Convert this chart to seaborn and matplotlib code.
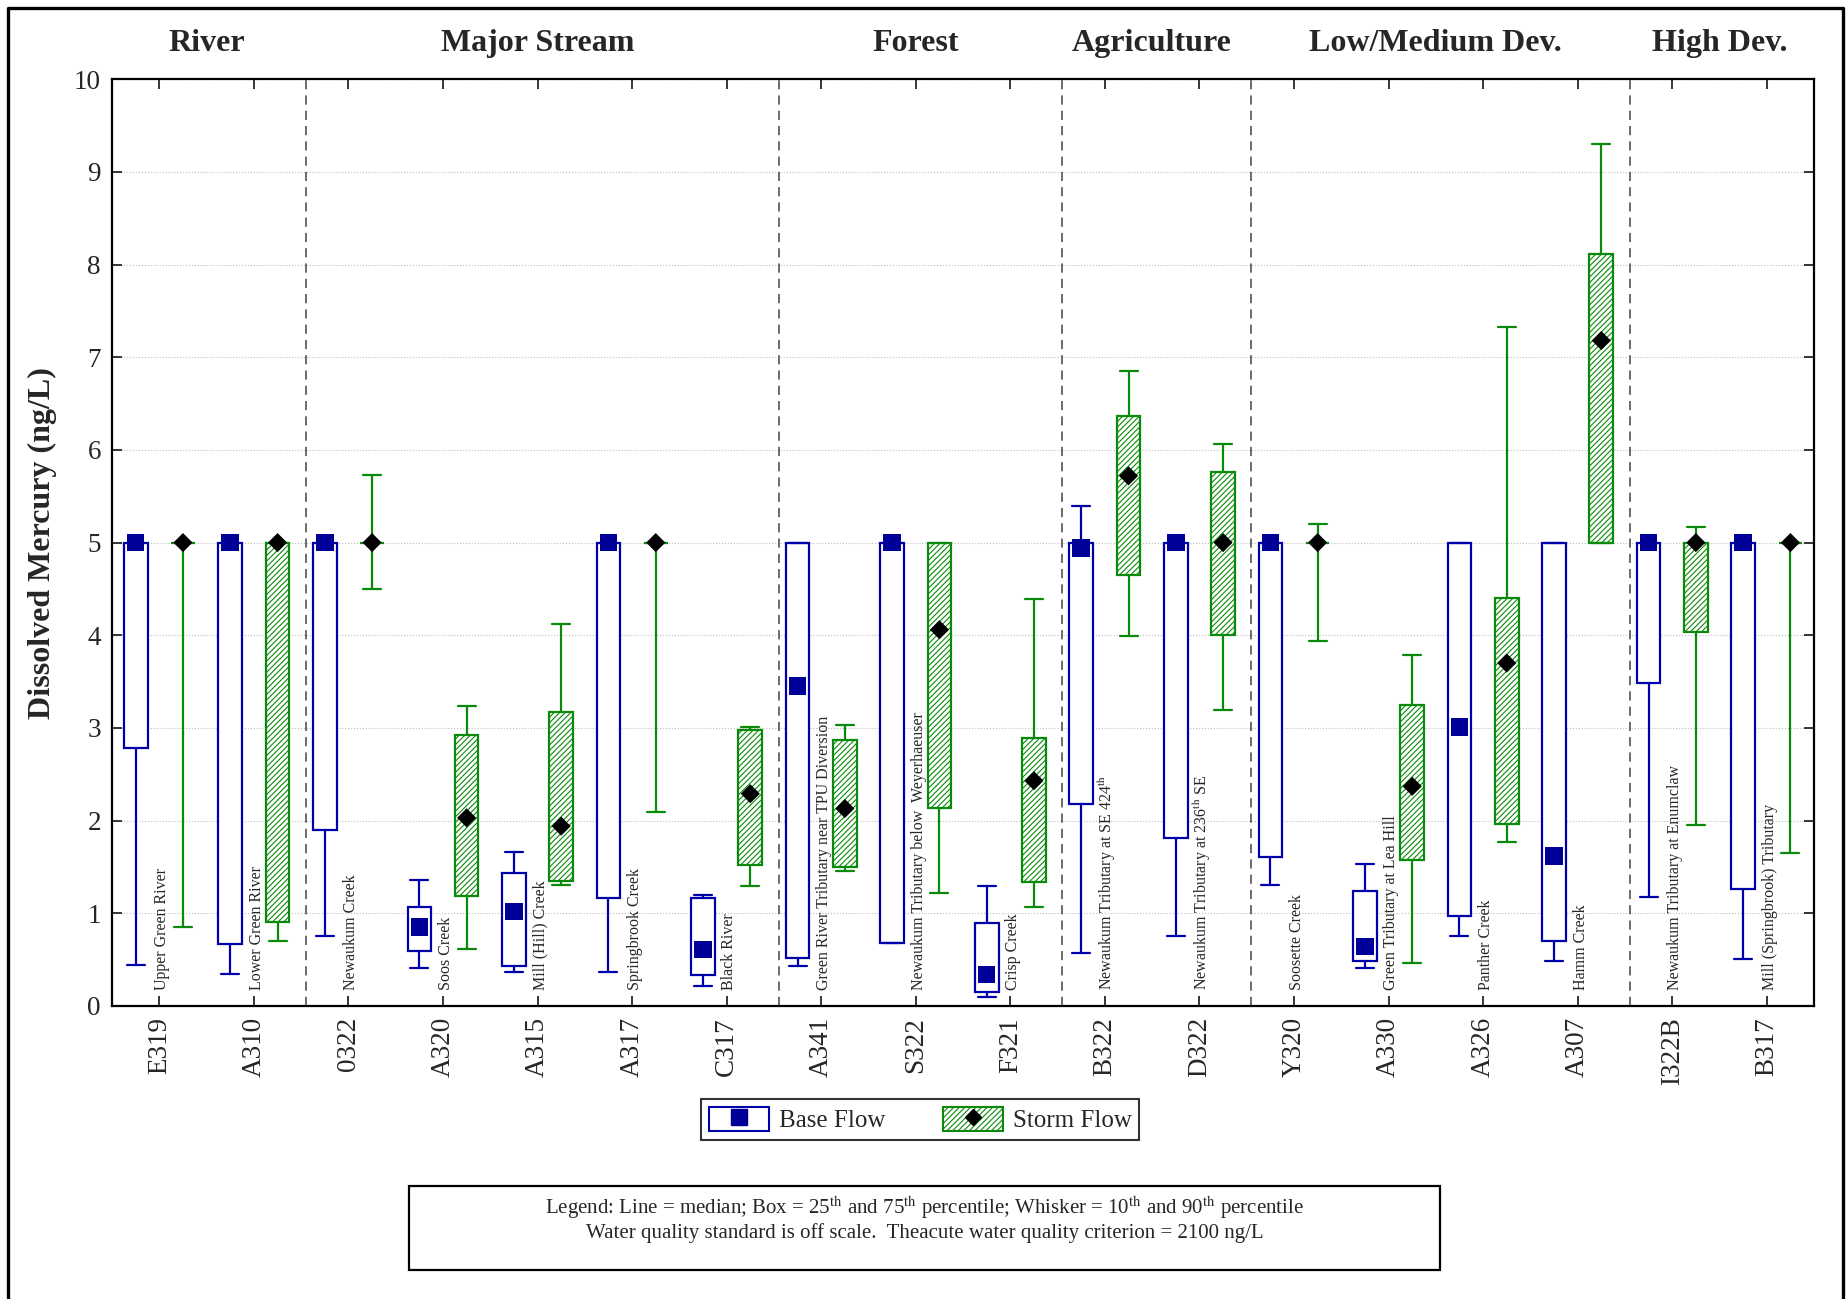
import numpy as np
import pandas as pd
import seaborn as sns
import matplotlib.pyplot as plt
from matplotlib.patches import Patch, Rectangle
from matplotlib.lines import Line2D

# Data (ng/L)
sites = ["E319", "A310", "0322", "A320", "A315", "A317", "C317", "A341", "S322",
         "F321", "B322", "D322", "Y320", "A330", "A326", "A307", "I322B", "B317"]
site_names = ["Upper Green River", "Lower Green River", "Newaukum Creek", "Soos Creek",
              "Mill (Hill) Creek", "Springbrook Creek", "Black River",
              "Green River Tributary near TPU Diversion",
              "Newaukum Tributary below  Weyerhaeuser", "Crisp Creek",
              "Newaukum Tributary at SE 424$^{\\mathrm{th}}$",
              "Newaukum Tributary at 236$^{\\mathrm{th}}$ SE", "Soosette Creek",
              "Green Tributary at Lea Hill", "Panther Creek", "Hamm Creek",
              "Newaukum Tributary at Enumclaw", "Mill (Springbrook) Tributary"]
groups = ["River", "Major Stream", "Forest", "Agriculture", "Low/Medium Dev.", "High Dev."]
group_sizes = [2, 5, 3, 2, 4, 2]

# base flow: 10th, 25th, median, 75th, 90th percentile
base_p10 = [0.44, 0.34, 0.75, 0.41, 0.37, 0.37, 0.22, 0.43, 0.68, 0.10, 0.57, 0.76, 1.30, 0.41, 0.76, 0.49, 1.18, 0.51]
base_p25 = [2.78, 0.67, 1.90, 0.59, 0.43, 1.17, 0.33, 0.52, 0.68, 0.15, 2.18, 1.81, 1.61, 0.48, 0.97, 0.70, 3.49, 1.26]
base_med = [5.00, 5.00, 5.00, 0.85, 1.02, 5.00, 0.61, 3.45, 5.00, 0.34, 4.94, 5.00, 5.00, 0.64, 3.01, 1.62, 5.00, 5.00]
base_p75 = [5.00, 5.00, 5.00, 1.07, 1.43, 5.00, 1.16, 5.00, 5.00, 0.89, 5.00, 5.00, 5.00, 1.24, 5.00, 5.00, 5.00, 5.00]
base_p90 = [5.00, 5.00, 5.00, 1.36, 1.66, 5.00, 1.20, 5.00, 5.00, 1.29, 5.39, 5.00, 5.00, 1.53, 5.00, 5.00, 5.00, 5.00]

# storm flow
storm_p10 = [0.85, 0.70, 4.50, 0.61, 1.31, 2.09, 1.29, 1.46, 1.22, 1.07, 3.99, 3.19, 3.94, 0.46, 1.77, 5.00, 1.95, 1.65]
storm_p25 = [5.00, 0.91, 5.00, 1.19, 1.35, 5.00, 1.52, 1.50, 2.14, 1.34, 4.65, 4.00, 5.00, 1.58, 1.96, 5.00, 4.04, 5.00]
storm_med = [5.00, 5.00, 5.00, 2.03, 1.94, 5.00, 2.29, 2.13, 4.06, 2.43, 5.72, 5.00, 5.00, 2.37, 3.70, 7.18, 5.00, 5.00]
storm_p75 = [5.00, 5.00, 5.00, 2.92, 3.17, 5.00, 2.98, 2.87, 5.00, 2.89, 6.37, 5.76, 5.00, 3.25, 4.40, 8.11, 5.00, 5.00]
storm_p90 = [5.00, 5.00, 5.73, 3.24, 4.12, 5.00, 3.01, 3.03, 5.00, 4.39, 6.85, 6.06, 5.20, 3.79, 7.33, 9.30, 5.17, 5.00]

blue = "#0000aa"
navy = "#000099"
green = "#0a8a0a"

sns.set_style("ticks")
plt.rcParams["font.family"] = ["Liberation Serif", "DejaVu Serif"]
plt.rcParams["mathtext.fontset"] = "stix"
plt.rcParams["hatch.linewidth"] = 0.8

df = pd.DataFrame({"site": sites, "pos": np.arange(len(sites)),
                   "base_med": base_med, "storm_med": storm_med})


def make_stats(p10, p25, med, p75, p90):
    return [dict(whislo=a, q1=b, med=c, q3=d, whishi=e, fliers=[])
            for a, b, c, d, e in zip(p10, p25, med, p75, p90)]


fig = plt.figure(figsize=(18.49, 12.99), dpi=100)
ax = fig.add_axes([0.0606, 0.2256, 0.9205, 0.7134])

pos = df["pos"].values
ax.bxp(make_stats(base_p10, base_p25, base_med, base_p75, base_p90),
       positions=pos - 0.25, widths=0.25, capwidths=0.19, showfliers=False,
       patch_artist=True, manage_ticks=False,
       boxprops=dict(facecolor="white", edgecolor=blue, linewidth=1.6),
       whiskerprops=dict(color=blue, linewidth=1.6),
       capprops=dict(color=blue, linewidth=1.6),
       medianprops=dict(visible=False))
ax.bxp(make_stats(storm_p10, storm_p25, storm_med, storm_p75, storm_p90),
       positions=pos + 0.25, widths=0.25, capwidths=0.19, showfliers=False,
       patch_artist=True, manage_ticks=False,
       boxprops=dict(facecolor="white", edgecolor=green, linewidth=1.6, hatch="//////"),
       whiskerprops=dict(color=green, linewidth=1.6),
       capprops=dict(color=green, linewidth=1.6),
       medianprops=dict(visible=False))

# median markers
sns.scatterplot(x=df["pos"] - 0.25, y=df["base_med"], marker="s", s=160, color=navy,
                edgecolor="none", ax=ax, zorder=5, legend=False)
sns.scatterplot(x=df["pos"] + 0.25, y=df["storm_med"], marker="D", s=95, color="black",
                edgecolor="none", ax=ax, zorder=5, legend=False)

# site names
for i, name in enumerate(site_names):
    ax.text(i + 0.03, 0.17, name, rotation=90, ha="center", va="bottom", fontsize=11.5)

# group separators and titles
bounds = np.cumsum(group_sizes)
for b in bounds[:-1]:
    ax.axvline(b - 0.45, color="#444444", linestyle=(0, (6, 4)), linewidth=1.1, zorder=1)
starts = np.concatenate([[0], bounds[:-1]])
for g, s, n in zip(groups, starts, group_sizes):
    ax.text(s + (n - 1) / 2, 1.039, g, transform=ax.get_xaxis_transform(),
            ha="center", va="center", fontsize=23, fontweight="bold")

ax.set_xlim(-0.5, len(sites) - 0.5)
ax.set_ylim(0, 10)
ax.set_xticks(pos)
ax.set_xticklabels(sites, rotation=90)
ax.set_yticks(np.arange(0, 11, 1))
ax.set_xlabel("")
ax.set_ylabel("Dissolved Mercury (ng/L)", fontsize=23, fontweight="bold", labelpad=12)
ax.tick_params(axis="both", direction="in", length=7, width=1.3, top=True, right=True,
               labelsize=19.5, pad=8)
ax.yaxis.grid(True, linestyle=":", color="#bdbdbd", linewidth=0.8)
ax.set_axisbelow(True)
for sp in ax.spines.values():
    sp.set_visible(True)
    sp.set_linewidth(1.6)
    sp.set_color("black")

# legend
handles = [(Patch(facecolor="white", edgecolor=blue, linewidth=1.5),
            Line2D([], [], marker="s", linestyle="none", color=navy, markersize=11)),
           (Patch(facecolor="white", edgecolor=green, linewidth=1.5, hatch="//////"),
            Line2D([], [], marker="D", linestyle="none", color="black", markersize=8))]
leg = fig.legend(handles, ["Base Flow", "Storm Flow"], loc="center",
                 bbox_to_anchor=(0.4977, 0.138), ncol=2, frameon=True, fancybox=False,
                 edgecolor="black", fontsize=18, handlelength=2.4, handleheight=1.1,
                 columnspacing=2.3, borderpad=0.3, handletextpad=0.4)
leg.get_frame().set_linewidth(1.5)

# note box
fig.add_artist(Rectangle((0.221, 0.0223), 0.558, 0.0647, transform=fig.transFigure,
                         fill=False, edgecolor="black", linewidth=1.6))
fig.text(0.5, 0.070, "Legend: Line = median; Box = 25$^{\\mathrm{th}}$ and 75$^{\\mathrm{th}}$ percentile; "
         "Whisker = 10$^{\\mathrm{th}}$ and 90$^{\\mathrm{th}}$ percentile",
         ha="center", va="center", fontsize=15)
fig.text(0.5, 0.051, "Water quality standard is off scale.  Theacute water quality criterion = 2100 ng/L",
         ha="center", va="center", fontsize=15)

# outer frame (open at bottom)
fig.add_artist(Line2D([0.0045, 0.0045, 0.9968, 0.9968], [0, 0.9935, 0.9935, 0],
                      transform=fig.transFigure, color="black", linewidth=2.4))

fig.savefig("out.png", dpi=100)
